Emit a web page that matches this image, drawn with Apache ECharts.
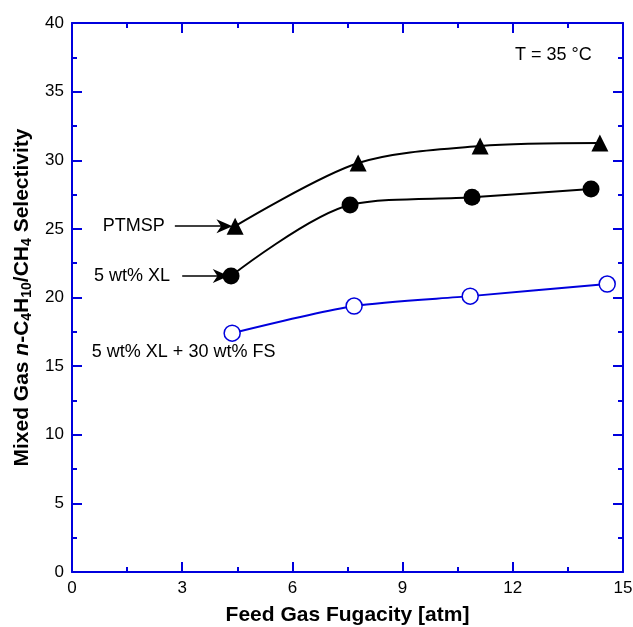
<!DOCTYPE html>
<html>
<head>
<meta charset="utf-8">
<script src="https://cdn.jsdelivr.net/npm/echarts@6/dist/echarts.min.js"></script>
<style>
html, body { margin: 0; padding: 0; background: #fff; }
#main { width: 633px; height: 627px; }
</style>
</head>
<body>
<div id="main"></div>
<script>
// data
var fugPTMSP = [4.44, 7.79, 11.11, 14.37];
var selPTMSP = [25.2, 29.8, 31.04, 31.26];
var fugXL = [4.33, 7.57, 10.89, 14.13];
var selXL = [21.57, 26.74, 27.3, 27.9];
var fugFS = [4.36, 7.68, 10.84, 14.57];
var selFS = [17.4, 19.38, 20.1, 20.98];
var xTicks = [0, 3, 6, 9, 12, 15];
var yTicks = [0, 5, 10, 15, 20, 25, 30, 35, 40];

var axisBlue = '#0000dd';
var font = 'Liberation Sans, Arial, sans-serif';
var arrowHead = 'path://M0,0L10,24L0,17L-10,24Z';

function pairs(xs, ys) {
    return xs.map(function (x, i) { return [x, ys[i]]; });
}

function arrowLine(x0, x1, y) {
    return {
        silent: true,
        symbol: ['none', arrowHead],
        symbolSize: [14, 16],
        lineStyle: { color: '#000', width: 1.5, type: 'solid' },
        itemStyle: { color: '#000' },
        label: { show: false },
        data: [[{ coord: [x0, y] }, { coord: [x1, y] }]]
    };
}

var myChart = echarts.init(document.getElementById('main'));

function xAxisOpt(pos, showLabels) {
    return {
        type: 'value', position: pos, min: 0, max: 15, interval: 3,
        axisLine: { show: true, onZero: false, lineStyle: { color: axisBlue, width: 2 } },
        axisTick: { show: true, inside: true, length: 10, lineStyle: { color: axisBlue, width: 2 } },
        minorTick: { show: true, splitNumber: 2, length: 5, lineStyle: { color: axisBlue, width: 2 } },
        splitLine: { show: false },
        axisLabel: { show: showLabels, color: '#000', fontSize: 17, fontFamily: font, margin: 8,
            formatter: function (v) { return xTicks.indexOf(v) >= 0 ? String(v) : ''; } },
        name: showLabels ? 'Feed Gas Fugacity [atm]' : '',
        nameLocation: 'middle', nameGap: 33,
        nameTextStyle: { color: '#000', fontSize: 21, fontWeight: 'bold', fontFamily: font }
    };
}

function yAxisOpt(pos, showLabels) {
    return {
        type: 'value', position: pos, min: 0, max: 40, interval: 5,
        axisLine: { show: true, onZero: false, lineStyle: { color: axisBlue, width: 2 } },
        axisTick: { show: true, inside: true, length: 10, lineStyle: { color: axisBlue, width: 2 } },
        minorTick: { show: true, splitNumber: 2, length: 5, lineStyle: { color: axisBlue, width: 2 } },
        splitLine: { show: false },
        axisLabel: { show: showLabels, color: '#000', fontSize: 17, fontFamily: font, margin: 8,
            formatter: function (v) { return yTicks.indexOf(v) >= 0 ? String(v) : ''; } },
        name: showLabels ? '{b|Mixed Gas }{i|n}{b|-C}{s|4}{b|H}{s|10}{b|/CH}{s|4}{b| Selectivity}' : '',
        nameLocation: 'middle', nameGap: 25, nameRotate: 90,
        nameTextStyle: {
            color: '#000', fontFamily: font,
            rich: {
                b: { fontSize: 21, fontWeight: 'bold', fontFamily: font, color: '#000', lineHeight: 24 },
                i: { fontSize: 21, fontWeight: 'bold', fontStyle: 'italic', fontFamily: font, color: '#000', lineHeight: 24 },
                s: { fontSize: 14, fontWeight: 'bold', fontFamily: font, color: '#000', verticalAlign: 'bottom', lineHeight: 14 }
            }
        }
    };
}

var option = {
    animation: false,
    backgroundColor: '#fff',
    grid: { left: 72, right: 10, top: 23, bottom: 55, outerBoundsMode: 'none' },
    xAxis: [xAxisOpt('bottom', true), xAxisOpt('top', false)],
    yAxis: [yAxisOpt('left', true), yAxisOpt('right', false)],
    series: [
        {
            name: 'PTMSP', type: 'line', smooth: 0.3,
            data: pairs(fugPTMSP, selPTMSP),
            symbol: 'triangle', symbolSize: 17,
            itemStyle: { color: '#000' },
            lineStyle: { color: '#000', width: 2 },
            markLine: arrowLine(2.8, 4.15, selPTMSP[0])
        },
        {
            name: '5 wt% XL', type: 'line', smooth: 0.3,
            data: pairs(fugXL, selXL),
            symbol: 'circle', symbolSize: 17,
            itemStyle: { color: '#000' },
            lineStyle: { color: '#000', width: 2 },
            markLine: arrowLine(3.0, 4.05, selXL[0])
        },
        {
            name: '5 wt% XL + 30 wt% FS', type: 'line', smooth: 0.25,
            data: pairs(fugFS, selFS),
            symbol: 'circle', symbolSize: 16,
            itemStyle: { color: '#fff', borderColor: '#0000dd', borderWidth: 1.5 },
            lineStyle: { color: '#0000dd', width: 2 }
        }
    ]
};
myChart.setOption(option);

// text annotations placed in data coordinates
function textAt(x, y, str) {
    var p = myChart.convertToPixel({ gridIndex: 0 }, [x, y]);
    return {
        type: 'text', x: p[0], y: p[1],
        style: { text: str, fill: '#000', fontSize: 18, fontFamily: font, align: 'left', verticalAlign: 'middle' }
    };
}
myChart.setOption({
    graphic: [
        textAt(0.84, selPTMSP[0], 'PTMSP'),
        textAt(0.6, selXL[0], '5 wt% XL'),
        textAt(0.54, 16.0, '5 wt% XL + 30 wt% FS'),
        textAt(12.06, 37.67, 'T = 35 °C')
    ]
});
</script>
</body>
</html>
